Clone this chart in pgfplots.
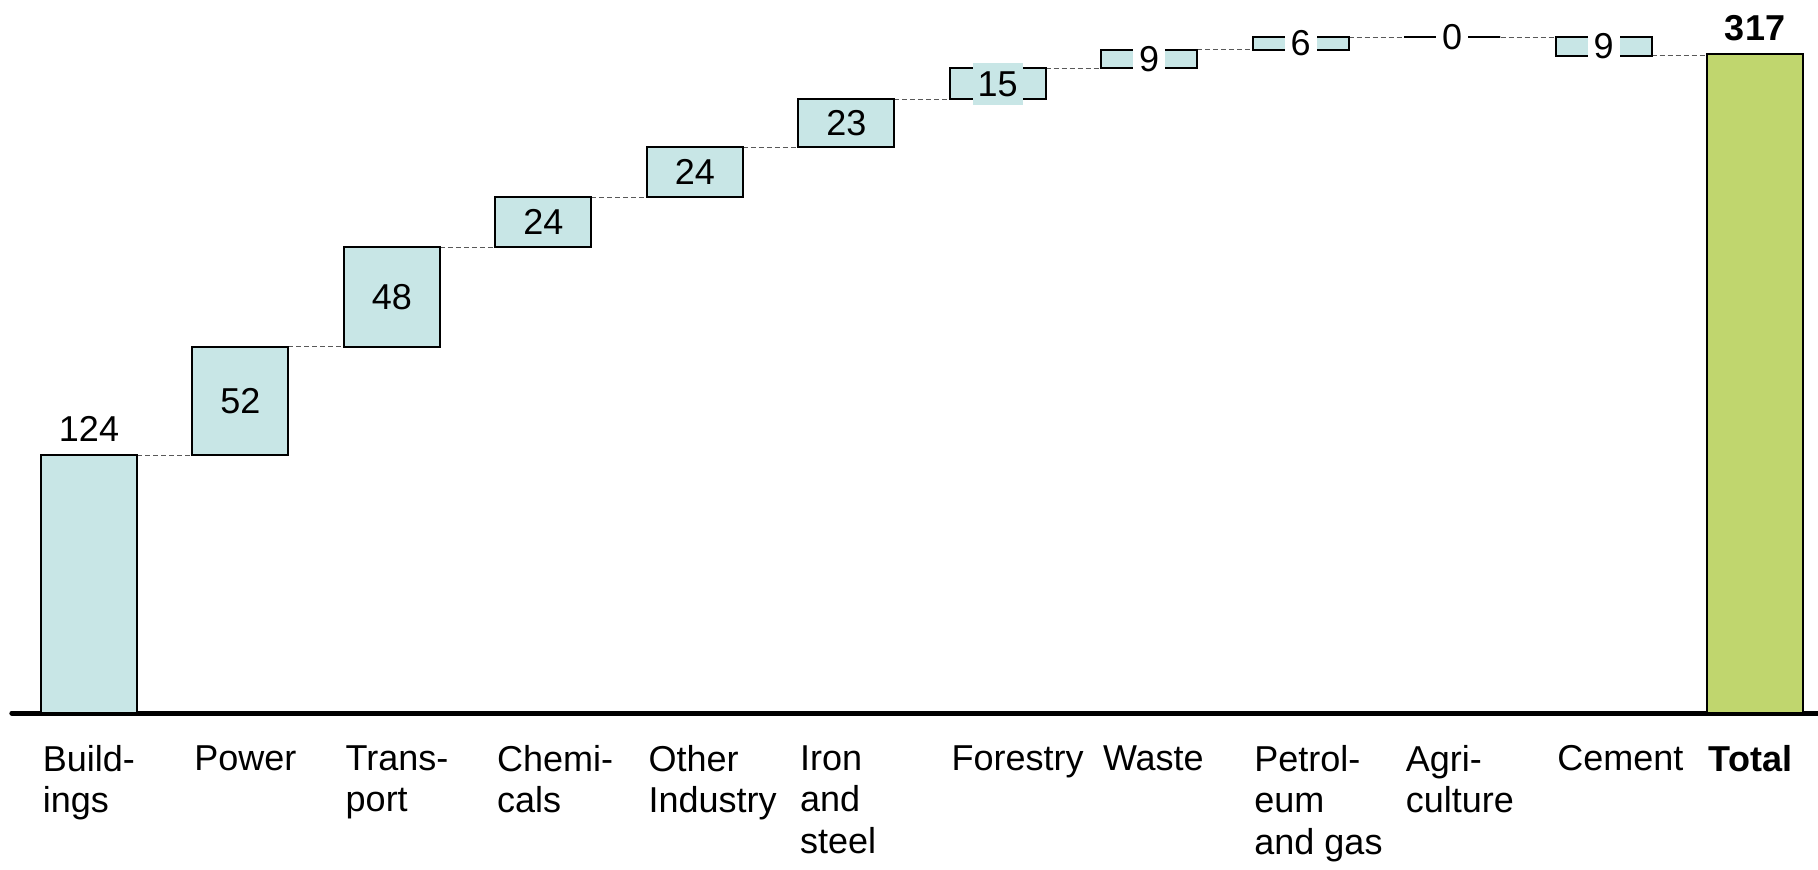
\documentclass[border=0pt]{standalone}
\usepackage{fontspec}
\setmainfont{Liberation Sans}
\usepackage{pgfplots}
\usepackage{pgfplotstable}
\pgfplotsset{compat=1.18}

\definecolor{stepcyan}{HTML}{C8E6E6}
\definecolor{totalgreen}{HTML}{C0D66E}

% value labels: plain, on a white patch, on a cyan patch, bold
\newcommand\Lw[1]{{\setlength\fboxsep{3pt}\colorbox{white}{#1}}}
\newcommand\Lc[1]{{\setlength\fboxsep{2.5pt}\colorbox{stepcyan}{\rule[-1.5pt]{0pt}{16pt}#1}}}
\newcommand\Lb[1]{\textbf{#1}}

% waterfall: invisible base, total bar, step bar;
% off = label offset from the middle of the step (axis units)
\pgfplotstableread{
x  base total step off   label
0  0    0     124  74.5  124
1  124  0     52   0     52
2  176  0     48   0     48
3  224  0     24   0     24
4  248  0     24   0     24
5  272  0     23   0     23
6  295  0     15   0     \Lc{15}
7  310  0     9    0     \Lw{9}
8  319  0     6    0     \Lw{6}
9  325  0     0    0     \Lw{0}
10 316  0     9    0     \Lw{9}
11 0    317   0    12.5  \Lb{317}
}\wfdata

% dashed connectors between consecutive bars
\pgfplotstableread{
x  y
0  124
1  124
1  nan
1  176
2  176
2  nan
2  224
3  224
3  nan
3  248
4  248
4  nan
4  272
5  272
5  nan
5  295
6  295
6  nan
6  310
7  310
7  nan
7  319
8  319
8  nan
8  325
10 325
10 nan
10 316
11 316
}\connectors

\pgfplotsset{
  wf/.style={
    scale only axis,
    width=909pt, height=356.5pt,
    xmin=-0.5877, xmax=11.416,
    ymin=0, ymax=342.8,
    at={(0pt,78pt)}, anchor=south west,
  },
}

\begin{document}
\begin{tikzpicture}
\begin{axis}[wf, hide axis]
  \addplot[gray!70!black, line width=0.5pt, dash pattern=on 2.5pt off 1.5pt,
           unbounded coords=jump] table[x=x, y=y] {\connectors};
\end{axis}

\begin{axis}[wf,
  clip=false,
  ybar stacked, stacked ignores zero=false, bar width=48pt,
  axis line style={draw=none},
  ytick=\empty,
  xtick={0,...,11},
  xtick style={draw=none},
  xticklabels={{Build-\\ings}, {Power}, {Trans-\\port}, {Chemi-\\cals},
    {Other\\Industry}, {Iron\\and\\steel}, {Forestry}, {Waste},
    {Petrol-\\eum\\and gas}, {Agri-\\culture}, {Cement}, {\textbf{Total}}},
  xticklabel style={anchor=north west, align=left, inner sep=0pt,
    xshift=-23.3pt, yshift=-16pt, font=\fontsize{18}{20.75}\selectfont},
]
  \addplot[draw=none, fill=none] table[x=x, y=base] {\wfdata};
  \addplot[draw=black, line width=1pt, fill=totalgreen] table[x=x, y=total] {\wfdata};
  \addplot[draw=black, line width=1pt, fill=stepcyan,
    nodes near coords, point meta=explicit symbolic,
    visualization depends on={\thisrow{off} \as \off},
    every node near coord/.append style={anchor=center, inner sep=0pt,
      font=\fontsize{18}{21}\selectfont, text=black,
      shift={(axis direction cs:0,\off)}},
  ] table[x=x, y=step, meta=label] {\wfdata};
  \draw[line width=2.5pt, line cap=round] (rel axis cs:0.0065,0) -- (rel axis cs:1,0);
\end{axis}
\pgfresetboundingbox
\path[use as bounding box] (0pt,0pt) rectangle (909pt,434.5pt);
\end{tikzpicture}
\end{document}
